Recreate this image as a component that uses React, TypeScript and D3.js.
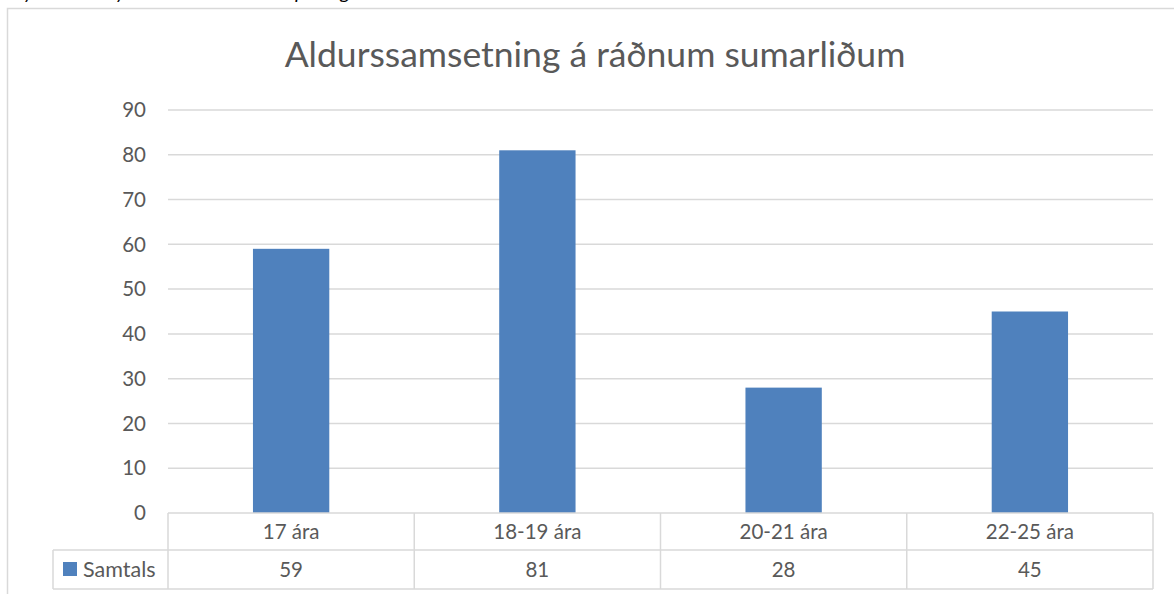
import * as d3 from 'd3';

const TITLE = 'Aldurssamsetning á ráðnum sumarliðum';
const categories = ['17 ára', '18-19 ára', '20-21 ára', '22-25 ára'];
const seriesName = 'Samtals';
const values = [59, 81, 28, 45];
const yTicks = [0, 10, 20, 30, 40, 50, 60, 70, 80, 90];

const W = 1174;
const H = 594;
const FONT = 'Lato, "Open Sans", sans-serif';
const TEXT = '#595959';
const GRID = '#d9d9d9';
const BAR = '#4f81bd';

export default function App() {
  const plotLeft = 168;
  const plotRight = 1153;
  const plotTop = 110;
  const plotBottom = 513;
  const row1 = 550;
  const row2 = 589;
  const legendLeft = 53;

  const x = d3.scaleBand<string>().domain(categories).range([plotLeft, plotRight]).paddingInner(0.69).paddingOuter(0.345);
  const band = d3.scaleBand<string>().domain(categories).range([plotLeft, plotRight]);
  const y = d3.scaleLinear().domain([0, 90]).range([plotBottom, plotTop]);

  return (
    <svg width={W} height={H} style={{ position: 'absolute', left: 0, top: 0, background: '#fff' }} fontFamily={FONT}>
      {/* cut-off caption above the chart */}
      <g fontStyle="italic" fontSize={20} fill="#000" fontFamily="Calibri, Carlito, 'Liberation Sans', sans-serif">
        <text x={24} y={-1}>y</text>
        <text x={116} y={-1}>y</text>
        <text x={295} y={-1}>p</text>
        <text x={340} y={-1}>g</text>
      </g>
      {/* chart frame */}
      <rect x={7.5} y={8.5} width={W} height={H} fill="#fff" stroke={GRID} strokeWidth={1.5} />

      <text x={595} y={67} textAnchor="middle" fontSize={35.5} fill={TEXT}>{TITLE}</text>

      {/* gridlines and y labels */}
      {yTicks.map(t => (
        <g key={t}>
          {t > 0 && <line x1={plotLeft} x2={plotRight} y1={y(t)} y2={y(t)} stroke={GRID} strokeWidth={1.5} />}
          <text x={146} y={y(t)} dy="0.35em" textAnchor="end" fontSize={20.5} fill={TEXT}>{t}</text>
        </g>
      ))}

      {/* bars */}
      {categories.map((c, i) => (
        <rect key={c} x={x(c)} y={y(values[i])} width={x.bandwidth()} height={y(0) - y(values[i])} fill={BAR} />
      ))}

      {/* data table */}
      <g stroke={GRID} strokeWidth={1.5} fill="none">
        <line x1={plotLeft} x2={plotRight} y1={plotBottom} y2={plotBottom} />
        <line x1={legendLeft} x2={plotRight} y1={row1} y2={row1} />
        <line x1={legendLeft} x2={plotRight} y1={row2} y2={row2} />
        <line x1={legendLeft} x2={legendLeft} y1={row1} y2={row2} />
        {categories.map(c => (
          <line key={c} x1={band(c)} x2={band(c)} y1={plotBottom} y2={row2} />
        ))}
        <line x1={plotRight} x2={plotRight} y1={plotBottom} y2={row2} />
      </g>
      {categories.map((c, i) => (
        <g key={c} fontSize={20.5} fill={TEXT} textAnchor="middle">
          <text x={(band(c) as number) + band.bandwidth() / 2} y={(plotBottom + row1) / 2} dy="0.35em">{c}</text>
          <text x={(band(c) as number) + band.bandwidth() / 2} y={(row1 + row2) / 2} dy="0.35em">{values[i]}</text>
        </g>
      ))}
      <rect x={63} y={562} width={14} height={14} fill={BAR} />
      <text x={83} y={(row1 + row2) / 2} dy="0.35em" fontSize={21.5} fill={TEXT}>{seriesName}</text>
    </svg>
  );
}
